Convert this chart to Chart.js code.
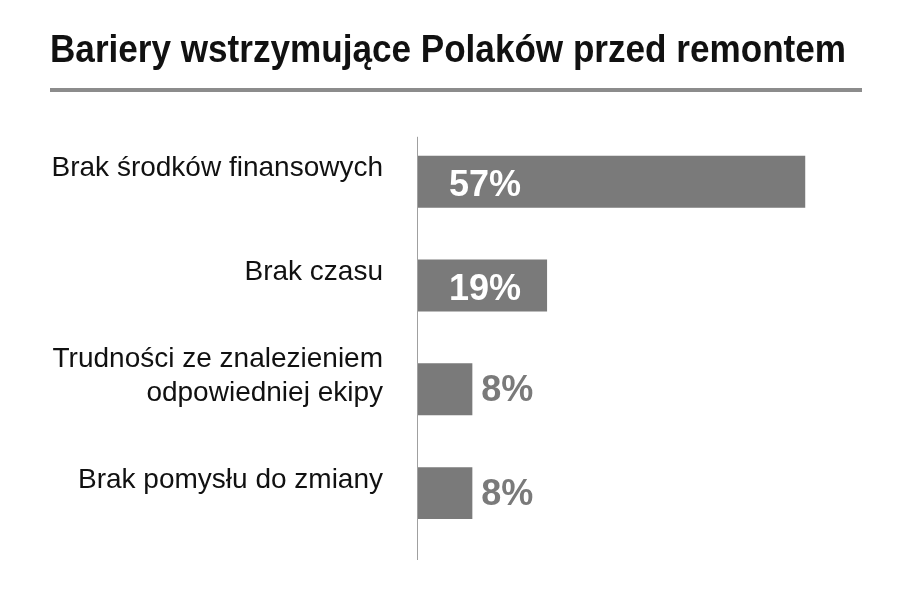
<!DOCTYPE html>
<html>
<head>
<meta charset="utf-8">
<script src="https://cdn.jsdelivr.net/npm/chart.js@4/dist/chart.umd.min.js"></script>
<style>
  html, body { margin: 0; padding: 0; background: #fff; }
  #wrap { width: 914px; height: 594px; }
</style>
</head>
<body>
<div id="wrap"><canvas id="chart"></canvas></div>
<script>
// CATEGORIES AND VALUES (%)
const categories = [
    "Brak środków finansowych",
    "Brak czasu",
    ["Trudności ze znalezieniem", "odpowiedniej ekipy"],
    "Brak pomysłu do zmiany",
];
const shares = [57, 19, 8, 8];
const titleText = "Bariery wstrzymujące Polaków przed remontem";

const barGrey = "#7a7a7a";

// AXIS LINE, RULE UNDER TITLE AND VALUE LABELS
const decor = {
    id: "decor",
    afterDraw(chart) {
        const ctx = chart.ctx, area = chart.chartArea, tb = chart.titleBlock;
        ctx.save();
        // rule under title (runs a bit past the title box)
        ctx.fillStyle = "#8c8c8c";
        ctx.fillRect(tb.left, 88, chart.width - 52 - tb.left, 4);
        // vertical axis line
        ctx.fillStyle = "#a0a0a0";
        ctx.fillRect(area.left - 1, area.top + 7, 1, area.bottom - area.top + 8);
        // values
        const meta = chart.getDatasetMeta(0);
        ctx.font = "bold 36px 'Liberation Sans', Arial, sans-serif";
        ctx.textAlign = "left";
        ctx.textBaseline = "alphabetic";
        meta.data.forEach((bar, i) => {
            const v = shares[i];
            const txt = v + "%";
            if (v > 15) {
                ctx.fillStyle = "#ffffff";
                ctx.fillText(txt, bar.base + 31, bar.y + 14);
            } else {
                ctx.fillStyle = barGrey;
                ctx.fillText(txt, bar.x + 9, bar.y + 12);
            }
        });
        ctx.restore();
    },
};

new Chart(document.getElementById("chart"), {
    type: "bar",
    plugins: [decor],
    data: {
        labels: categories,
        datasets: [{
            data: shares,
            backgroundColor: barGrey,
            barPercentage: 0.5,
            categoryPercentage: 1,
        }],
    },
    options: {
        indexAxis: "y",
        responsive: true,
        maintainAspectRatio: false,
        animation: false,
        layout: { padding: { left: 50, right: 68, top: 0, bottom: 49 } },
        plugins: {
            legend: { display: false },
            tooltip: { enabled: false },
            title: {
                display: true,
                text: titleText,
                align: "start",
                color: "#111",
                font: { family: "'Liberation Sans', Arial, sans-serif", size: 39, weight: "bold", lineHeight: 1.2 },
                padding: { top: 28, bottom: 55 },
            },
        },
        scales: {
            x: {
                display: false,
                min: 0,
                max: 63,
            },
            y: {
                afterFit(scale) { scale.width = 368; },
                grid: { display: false },
                border: { display: false },
                ticks: {
                    color: "#111",
                    padding: 27,
                    labelOffset: -13,
                    font: { family: "'Liberation Sans', Arial, sans-serif", size: 28, lineHeight: 1.18 },
                },
            },
        },
    },
});
</script>
</body>
</html>
